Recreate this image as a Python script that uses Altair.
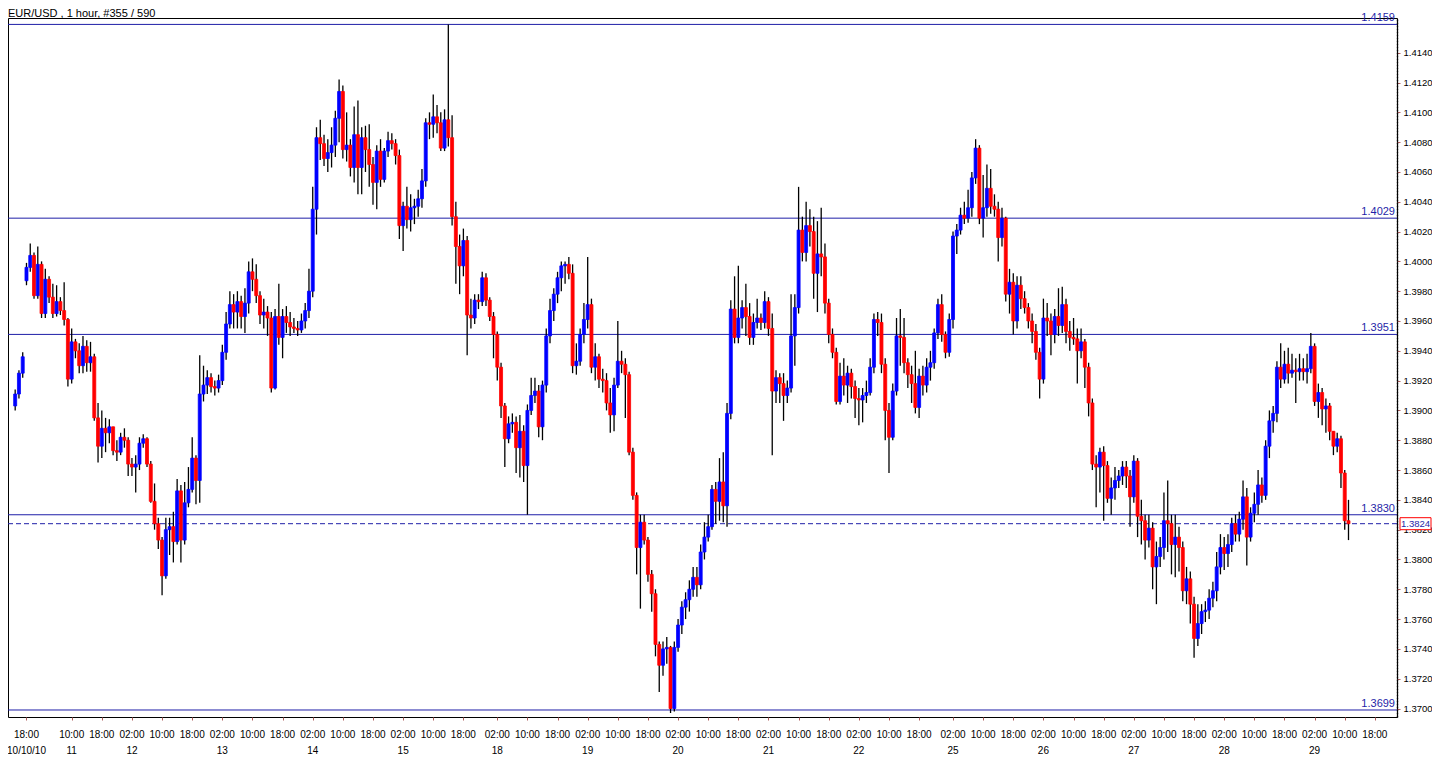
import altair as alt
import pandas as pd

TITLE = "EUR/USD , 1 hour, #355 / 590"

# ---- hourly candles (index 0..354) ----
closes = [
    1.3911, 1.3925, 1.3936, 1.3996, 1.4004, 1.3977, 1.3998, 1.3965, 1.3988, 1.3976,
    1.3965, 1.3973, 1.3967, 1.3961, 1.3921, 1.3946, 1.3940, 1.3930, 1.3943, 1.3932,
    1.3936, 1.3895, 1.3876, 1.3888, 1.3885, 1.3889, 1.3873, 1.3872, 1.3882, 1.3880,
    1.3864, 1.3862, 1.3864, 1.3878, 1.3881, 1.3864, 1.3839, 1.3824, 1.3813, 1.3789,
    1.3820, 1.3822, 1.3812, 1.3846, 1.3813, 1.3838, 1.3847, 1.3868, 1.3853, 1.3911,
    1.3917, 1.3922, 1.3916, 1.3915, 1.3920, 1.3939, 1.3958, 1.3971, 1.3966, 1.3973,
    1.3963, 1.3972, 1.3993, 1.3988, 1.3977, 1.3964, 1.3966, 1.3962, 1.3915, 1.3963,
    1.3949, 1.3963, 1.3959, 1.3956, 1.3955, 1.3954, 1.3960, 1.3967, 1.3980, 1.4035,
    1.4083, 1.4079, 1.4069, 1.4073, 1.4078, 1.4096, 1.4114, 1.4075, 1.4078, 1.4063,
    1.4085, 1.4063, 1.4083, 1.4075, 1.4065, 1.4053, 1.4074, 1.4055, 1.4074, 1.4081,
    1.4079, 1.4071, 1.4024, 1.4037, 1.4028, 1.4036, 1.4037, 1.4042, 1.4054, 1.4093,
    1.4092, 1.4097, 1.4093, 1.4076, 1.4095, 1.4083, 1.4030, 1.4010, 1.3997, 1.4014,
    1.3964, 1.3962, 1.3974, 1.3973, 1.3989, 1.3974, 1.3963, 1.3951, 1.3929, 1.3903,
    1.3881, 1.3891, 1.3892, 1.3875, 1.3886, 1.3863, 1.3900, 1.3910, 1.3913, 1.3889,
    1.3917, 1.3950, 1.3967, 1.3978, 1.3989, 1.3997, 1.3998, 1.3992, 1.3930, 1.3933,
    1.3951, 1.3961, 1.3971, 1.3929, 1.3936, 1.3921, 1.3920, 1.3905, 1.3897, 1.3917,
    1.3933, 1.3931, 1.3924, 1.3872, 1.3843, 1.3808, 1.3825, 1.3813, 1.3790, 1.3777,
    1.3743, 1.3729, 1.3740, 1.3741, 1.3700, 1.3741, 1.3756, 1.3768, 1.3773, 1.3780,
    1.3788, 1.3783, 1.3805, 1.3815, 1.3822, 1.3847, 1.3839, 1.3852, 1.3836, 1.3898,
    1.3968, 1.3949, 1.3962, 1.3969, 1.3963, 1.3949, 1.3959, 1.3962, 1.3959, 1.3973,
    1.3955, 1.3913, 1.3922, 1.3918, 1.3910, 1.3915, 1.3950, 1.3969, 1.4021, 1.4006,
    1.4024, 1.4020, 1.3992, 1.4005, 1.4003, 1.3972, 1.3951, 1.3939, 1.3906, 1.3923,
    1.3917, 1.3925, 1.3916, 1.3908, 1.3907, 1.3910, 1.3912, 1.3929, 1.3961, 1.3959,
    1.3931, 1.3900, 1.3882, 1.3913, 1.3950, 1.3949, 1.3932, 1.3924, 1.3918, 1.3902,
    1.3923, 1.3917, 1.3929, 1.3932, 1.3952, 1.3971, 1.3951, 1.3939, 1.3961, 1.4017,
    1.4021, 1.4031, 1.4029, 1.4036, 1.4056, 1.4076, 1.4029, 1.4036, 1.4049, 1.4037,
    1.4035, 1.4016, 1.4029, 1.3978, 1.3986, 1.3960, 1.3984, 1.3975, 1.3969, 1.3960,
    1.3953, 1.3939, 1.3921, 1.3962, 1.3960, 1.3951, 1.3963, 1.3957, 1.3971, 1.3953,
    1.3949, 1.3948, 1.3940, 1.3946, 1.3929, 1.3905, 1.3864, 1.3862, 1.3872, 1.3863,
    1.3841, 1.3848, 1.3853, 1.3856, 1.3862, 1.3856, 1.3842, 1.3866, 1.3829, 1.3826,
    1.3813, 1.3821, 1.3795, 1.3802, 1.3808, 1.3826, 1.3824, 1.3810, 1.3815, 1.3808,
    1.3779, 1.3787, 1.3770, 1.3747, 1.3757, 1.3765, 1.3766, 1.3774, 1.3779, 1.3795,
    1.3808, 1.3804, 1.3810, 1.3824, 1.3817, 1.3827, 1.3842, 1.3815, 1.3831, 1.3837,
    1.3850, 1.3843, 1.3876, 1.3893, 1.3898, 1.3929, 1.3921, 1.3931, 1.3925, 1.3927,
    1.3926, 1.3928, 1.3926, 1.3928, 1.3943, 1.3906, 1.3912, 1.3901, 1.3903, 1.3886,
    1.3876, 1.3881, 1.3858, 1.3826, 1.3824,
]

highs = [
    1.3914, 1.3927, 1.3939, 1.3999, 1.4012, 1.4006, 1.4010, 1.4000, 1.3995, 1.3990,
    1.3985, 1.3984, 1.3976, 1.3986, 1.3962, 1.3955, 1.3948, 1.3945, 1.3950, 1.3947,
    1.3946, 1.3938, 1.3905, 1.3900, 1.3895, 1.3894, 1.3889, 1.3880, 1.3885, 1.3888,
    1.3882, 1.3868, 1.3870, 1.3882, 1.3884, 1.3882, 1.3866, 1.3851, 1.3828, 1.3815,
    1.3828, 1.3828, 1.3832, 1.3854, 1.3850, 1.3852, 1.3862, 1.3882, 1.3870, 1.3937,
    1.3930, 1.3927, 1.3925, 1.3920, 1.3924, 1.3944, 1.3966, 1.3980, 1.3978, 1.3980,
    1.3977, 1.3982, 1.4000, 1.4002, 1.3998, 1.3980, 1.3975, 1.3970, 1.3966, 1.3968,
    1.3985, 1.3968, 1.3970, 1.3966, 1.3962, 1.3960, 1.3965, 1.3972, 1.3995, 1.4050,
    1.4090, 1.4095, 1.4085, 1.4082, 1.4090, 1.4101, 1.4122, 1.4118, 1.4100, 1.4082,
    1.4104, 1.4108, 1.4090, 1.4091, 1.4092, 1.4070, 1.4078, 1.4082, 1.4076, 1.4087,
    1.4086, 1.4082, 1.4075, 1.4040, 1.4050, 1.4045, 1.4042, 1.4048, 1.4062, 1.4096,
    1.4100, 1.4112, 1.4105, 1.4100, 1.4102, 1.4159, 1.4098, 1.4040, 1.4018, 1.4022,
    1.4017, 1.3975, 1.3978, 1.3978, 1.3993, 1.3992, 1.3976, 1.3966, 1.3953, 1.3932,
    1.3905, 1.3896, 1.3898, 1.3896, 1.3897, 1.3890, 1.3904, 1.3922, 1.3922, 1.3917,
    1.3920, 1.3955, 1.3975, 1.3982, 1.3993, 1.4000, 1.4000, 1.4003, 1.3998, 1.3945,
    1.3955, 1.3972, 1.4003, 1.3975, 1.3945, 1.3938, 1.3928, 1.3925, 1.3915, 1.3922,
    1.3960, 1.3940, 1.3935, 1.3926, 1.3875, 1.3845, 1.3830, 1.3830, 1.3815, 1.3793,
    1.3780, 1.3745, 1.3745, 1.3748, 1.3742, 1.3745, 1.3760, 1.3772, 1.3778, 1.3786,
    1.3795, 1.3795, 1.3810, 1.3825, 1.3830, 1.3850, 1.3852, 1.3868, 1.3872, 1.3905,
    1.3974, 1.3990, 1.3997, 1.3974, 1.3985, 1.3972, 1.3965, 1.3975, 1.3965, 1.3980,
    1.3976, 1.3965, 1.3927, 1.3925, 1.3925, 1.3920, 1.3978, 1.3978, 1.4050, 1.4030,
    1.4040, 1.4035, 1.4030, 1.4027, 1.4036, 1.4012, 1.3975, 1.3955, 1.3942, 1.3932,
    1.3935, 1.3930, 1.3928, 1.3920, 1.3915, 1.3915, 1.3920, 1.3935, 1.3965, 1.3966,
    1.3965, 1.3935, 1.3905, 1.3918, 1.3962, 1.3968, 1.3962, 1.3935, 1.3930, 1.3940,
    1.3928, 1.3930, 1.3935, 1.3940, 1.3955, 1.3975, 1.3978, 1.3953, 1.3965, 1.4020,
    1.4025, 1.4036, 1.4040, 1.4048, 1.4060, 1.4082, 1.4078, 1.4058, 1.4065, 1.4062,
    1.4045, 1.4040, 1.4036, 1.4030, 1.3995, 1.3992, 1.3990, 1.3990, 1.3980, 1.3972,
    1.3965, 1.3958, 1.3942, 1.3975, 1.3972, 1.3965, 1.3968, 1.3982, 1.3983, 1.3975,
    1.3960, 1.3962, 1.3955, 1.3955, 1.3948, 1.3932, 1.3908, 1.3870, 1.3875, 1.3876,
    1.3866, 1.3855, 1.3862, 1.3860, 1.3866, 1.3866, 1.3860, 1.3870, 1.3868, 1.3840,
    1.3830, 1.3830, 1.3825, 1.3812, 1.3815, 1.3845, 1.3853, 1.3830, 1.3830, 1.3822,
    1.3812, 1.3795, 1.3792, 1.3775, 1.3770, 1.3770, 1.3772, 1.3780, 1.3785, 1.3805,
    1.3817, 1.3815, 1.3817, 1.3828, 1.3830, 1.3832, 1.3853, 1.3848, 1.3835, 1.3845,
    1.3860, 1.3855, 1.3880, 1.3900, 1.3903, 1.3933, 1.3945, 1.3940, 1.3942, 1.3938,
    1.3935, 1.3938, 1.3935, 1.3938, 1.3952, 1.3945, 1.3918, 1.3915, 1.3908, 1.3905,
    1.3885, 1.3885, 1.3883, 1.3860, 1.3840,
]

lows = [
    1.3900, 1.3908, 1.3922, 1.3984, 1.3993, 1.3975, 1.3975, 1.3962, 1.3962, 1.3972,
    1.3962, 1.3963, 1.3964, 1.3957, 1.3916, 1.3918, 1.3935, 1.3925, 1.3925, 1.3926,
    1.3926, 1.3893, 1.3865, 1.3868, 1.3872, 1.3878, 1.3870, 1.3866, 1.3870, 1.3875,
    1.3856, 1.3856, 1.3845, 1.3860, 1.3875, 1.3862, 1.3838, 1.3820, 1.3807, 1.3776,
    1.3787, 1.3803, 1.3798, 1.3810, 1.3798, 1.3810, 1.3835, 1.3845, 1.3837, 1.3838,
    1.3906, 1.3911, 1.3912, 1.3910, 1.3912, 1.3917, 1.3934, 1.3955, 1.3955, 1.3955,
    1.3955, 1.3952, 1.3965, 1.3980, 1.3972, 1.3958, 1.3955, 1.3950, 1.3912, 1.3914,
    1.3944, 1.3935, 1.3952, 1.3950, 1.3952, 1.3950, 1.3952, 1.3955, 1.3962, 1.3976,
    1.4018, 1.4068, 1.4064, 1.4060, 1.4063, 1.4070, 1.4080, 1.4069, 1.4067, 1.4057,
    1.4053, 1.4045, 1.4045, 1.4060, 1.4050, 1.4038, 1.4035, 1.4050, 1.4053, 1.4070,
    1.4075, 1.4065, 1.4015, 1.4007, 1.4022, 1.4020, 1.4025, 1.4030, 1.4036, 1.4050,
    1.4082, 1.4083, 1.4086, 1.4074, 1.4074, 1.4077, 1.4024, 1.3985, 1.3978, 1.3990,
    1.3937, 1.3955, 1.3958, 1.3968, 1.3970, 1.3970, 1.3960, 1.3935, 1.3920, 1.3895,
    1.3862, 1.3878, 1.3885, 1.3858, 1.3855, 1.3852, 1.3830, 1.3897, 1.3905, 1.3882,
    1.3880, 1.3912, 1.3945, 1.3960, 1.3972, 1.3980, 1.3985, 1.3988, 1.3925, 1.3924,
    1.3930, 1.3945, 1.3955, 1.3925, 1.3920, 1.3915, 1.3912, 1.3900, 1.3885, 1.3886,
    1.3915, 1.3925, 1.3895, 1.3870, 1.3840, 1.3790, 1.3767, 1.3810, 1.3785, 1.3765,
    1.3735, 1.3711, 1.3722, 1.3730, 1.3697, 1.3698, 1.3738, 1.3750, 1.3760, 1.3765,
    1.3775, 1.3775, 1.3780, 1.3800, 1.3812, 1.3820, 1.3824, 1.3826, 1.3825, 1.3822,
    1.3894, 1.3945, 1.3945, 1.3955, 1.3950, 1.3944, 1.3944, 1.3955, 1.3954, 1.3955,
    1.3950, 1.3870, 1.3905, 1.3905, 1.3893, 1.3905, 1.3912, 1.3930, 1.3965, 1.4000,
    1.4000, 1.4010, 1.3975, 1.3966, 1.3990, 1.3965, 1.3945, 1.3935, 1.3904, 1.3904,
    1.3910, 1.3905, 1.3908, 1.3895, 1.3890, 1.3892, 1.3905, 1.3910, 1.3925, 1.3950,
    1.3925, 1.3880, 1.3858, 1.3880, 1.3910, 1.3930, 1.3925, 1.3915, 1.3905, 1.3898,
    1.3895, 1.3910, 1.3912, 1.3920, 1.3928, 1.3948, 1.3946, 1.3935, 1.3936, 1.3955,
    1.4005, 1.4018, 1.4025, 1.4026, 1.4030, 1.4052, 1.4025, 1.4016, 1.4030, 1.4032,
    1.4030, 1.4000, 1.4010, 1.3973, 1.3965, 1.3951, 1.3955, 1.3968, 1.3965, 1.3955,
    1.3945, 1.3934, 1.3908, 1.3918, 1.3950, 1.3937, 1.3945, 1.3950, 1.3952, 1.3945,
    1.3940, 1.3944, 1.3918, 1.3935, 1.3915, 1.3896, 1.3860, 1.3835, 1.3845, 1.3826,
    1.3838, 1.3830, 1.3840, 1.3848, 1.3850, 1.3848, 1.3822, 1.3838, 1.3815, 1.3810,
    1.3800, 1.3808, 1.3780, 1.3770, 1.3795, 1.3800, 1.3805, 1.3790, 1.3788, 1.3792,
    1.3772, 1.3770, 1.3757, 1.3734, 1.3742, 1.3750, 1.3758, 1.3760, 1.3768, 1.3772,
    1.3790, 1.3793, 1.3795, 1.3805, 1.3812, 1.3812, 1.3820, 1.3796, 1.3812, 1.3825,
    1.3830, 1.3838, 1.3840, 1.3868, 1.3885, 1.3892, 1.3915, 1.3918, 1.3918, 1.3922,
    1.3905, 1.3920, 1.3920, 1.3918, 1.3925, 1.3903, 1.3895, 1.3890, 1.3885, 1.3880,
    1.3870, 1.3872, 1.3848, 1.3820, 1.3813,
]

# opens equal the previous close, except where the picture shows a gap
open_overrides = {0: 1.3903, 3: 1.3987}

# horizontal levels drawn on the chart
levels = [1.4159, 1.4029, 1.3951, 1.3830, 1.3699]
current_price = 1.3824

# price scale ticks
y_ticks = [1.3700, 1.3720, 1.3740, 1.3760, 1.3780, 1.3800, 1.3820, 1.3840,
           1.3860, 1.3880, 1.3900, 1.3920, 1.3940, 1.3960, 1.3980, 1.4000,
           1.4020, 1.4040, 1.4060, 1.4080, 1.4100, 1.4120, 1.4140]

# time scale: bar index of each label, its time, and day label
time_idx = [3, 15, 23, 31, 39, 47, 55, 63, 71, 79, 87, 95, 103, 111, 119,
            128, 136, 144, 152, 160, 168, 176, 184, 192, 200, 208, 216, 224, 232, 240,
            249, 257, 265, 273, 281, 289, 297, 305, 313, 321, 329, 337, 345, 353, 361]
time_txt = ["18:00", "10:00", "18:00", "02:00", "10:00", "18:00", "02:00", "10:00", "18:00",
            "02:00", "10:00", "18:00", "02:00", "10:00", "18:00",
            "02:00", "10:00", "18:00", "02:00", "10:00", "18:00", "02:00", "10:00", "18:00",
            "02:00", "10:00", "18:00", "02:00", "10:00", "18:00",
            "02:00", "10:00", "18:00", "02:00", "10:00", "18:00", "02:00", "10:00", "18:00",
            "02:00", "10:00", "18:00", "02:00", "10:00", "18:00"]
date_idx = [3, 15, 31, 55, 79, 103, 128, 152, 176, 200, 224, 249, 273, 297, 321, 345]
date_txt = ["10/10/10", "11", "12", "13", "14", "15", "18", "19", "20", "21", "22",
            "25", "26", "27", "28", "29"]

# ---- build tables ----
opens = []
for i, c in enumerate(closes):
    if i in open_overrides:
        opens.append(open_overrides[i])
    else:
        opens.append(closes[i - 1])

rows = []
for i in range(len(closes)):
    o, c = opens[i], closes[i]
    rows.append({
        "idx": i, "open": o, "close": c,
        "high": max(highs[i], o, c), "low": min(lows[i], o, c),
        "dir": "up" if c >= o else "down",
    })
candles = pd.DataFrame(rows)

W, H = 1389, 699
Y_LO, Y_HI = 1.36943, 1.41633
NAVY = "#1f1fa8"
TICK = "#b06060"
FONT = "Liberation Sans"

xs = alt.Scale(domain=[-0.58, 365.55], nice=False, zero=False)
ys = alt.Scale(domain=[Y_LO, Y_HI], nice=False, zero=False)
x_axis = alt.Axis(values=time_idx, labels=False, ticks=True, tickSize=3,
                  tickColor=TICK, domain=False, grid=False, title=None)
y_axis = alt.Axis(orient="right", values=y_ticks, format=".4f", grid=False,
                  tickSize=3, tickColor=TICK, labelPadding=3, labelFont=FONT,
                  labelFontSize=9.5, labelColor="#000000", domain=True,
                  domainColor="#000000", domainDash=[2, 1], domainWidth=1.5,
                  title=None)

X = alt.X("idx:Q", scale=xs, axis=x_axis, title=None)

base = alt.Chart(candles)
wicks = base.mark_rule(color="#000000", strokeWidth=1.3).encode(
    x=X,
    y=alt.Y("low:Q", scale=ys, axis=y_axis, title=None),
    y2="high:Q",
)
dir_scale = alt.Scale(domain=["up", "down"], range=["#0000ff", "#ff0000"])
bodies = base.mark_bar(size=3.0, strokeWidth=0.8).encode(
    x=X,
    y=alt.Y("open:Q", scale=ys, axis=y_axis, title=None),
    y2="close:Q",
    color=alt.Color("dir:N", scale=dir_scale, legend=None),
    stroke=alt.Stroke("dir:N", scale=dir_scale, legend=None),
)

lv = pd.DataFrame({"level": levels, "label": [f"{v:.4f}" for v in levels]})
level_lines = alt.Chart(lv).mark_rule(color=NAVY, strokeWidth=1).encode(
    y=alt.Y("level:Q", scale=ys, axis=y_axis, title=None)
)
level_text = alt.Chart(lv).mark_text(align="right", baseline="bottom", dy=-1,
                                     color=NAVY, font=FONT, fontSize=11).encode(
    x=alt.value(W - 2),
    y=alt.Y("level:Q", scale=ys, axis=y_axis, title=None),
    text="label:N",
)

half = 6.0 / (H / (Y_HI - Y_LO))
cur = pd.DataFrame({"p": [current_price], "top": [current_price + half],
                    "bot": [current_price - half], "label": [f"{current_price:.4f}"]})
cur_line = alt.Chart(cur).mark_rule(color=NAVY, strokeWidth=1, strokeDash=[5, 3]).encode(
    y=alt.Y("p:Q", scale=ys, axis=y_axis, title=None)
)
cur_box = alt.Chart(cur).mark_rect(fill="#ffffff", stroke="#ff0000", strokeWidth=1).encode(
    x=alt.value(W + 3), x2=alt.value(W + 34),
    y=alt.Y("top:Q", scale=ys, axis=y_axis, title=None), y2="bot:Q",
)
cur_text = alt.Chart(cur).mark_text(align="left", baseline="middle", color=NAVY,
                                    font=FONT, fontSize=9.5).encode(
    x=alt.value(W + 4),
    y=alt.Y("p:Q", scale=ys, axis=y_axis, title=None),
    text="label:N",
)

tl = pd.DataFrame({"idx": time_idx, "t": time_txt})
time_labels = alt.Chart(tl).mark_text(baseline="middle", font=FONT, fontSize=10,
                                      color="#000000").encode(
    x=X, y=alt.value(H + 18), text="t:N"
)
dl = pd.DataFrame({"idx": date_idx, "d": date_txt})
date_labels = alt.Chart(dl).mark_text(baseline="middle", font=FONT, fontSize=10,
                                      color="#000000").encode(
    x=X, y=alt.value(H + 34), text="d:N"
)

title = alt.Chart(pd.DataFrame({"t": [TITLE]})).mark_text(
    align="left", baseline="alphabetic", font=FONT, fontSize=11, color="#000000"
).encode(x=alt.value(0), y=alt.value(-1.5), text="t:N")

chart = alt.layer(
    level_lines, cur_line, wicks, bodies, level_text, cur_box, cur_text,
    time_labels, date_labels, title,
).properties(
    width=W, height=H,
    autosize=alt.AutoSizeParams(type="none"),
    padding={"left": 0, "top": 10, "right": 35, "bottom": 42},
    background="#ffffff",
).configure_view(
    stroke="#000000", strokeWidth=1, fill="#ffffff"
)

chart.save("out.html", embed_options={"renderer": "svg", "actions": False})
